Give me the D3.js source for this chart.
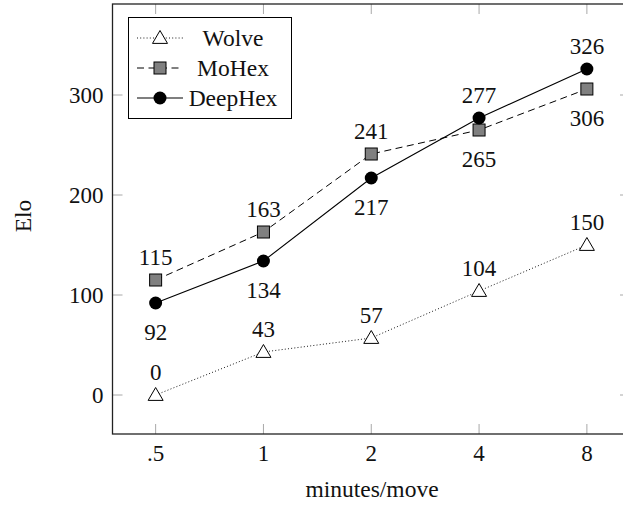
<!DOCTYPE html>
<html>
<head>
<meta charset="utf-8">
<script src="https://cdn.jsdelivr.net/npm/d3@7"></script>
<style>
  body { margin: 0; background: #fff; }
  svg { display: block; }
  text { font-family: "Liberation Serif", "Times New Roman", serif; fill: #111; }
</style>
</head>
<body>
<div id="chart"></div>
<script>
// data
const categories = ['.5', '1', '2', '4', '8'];
const wolve = [0, 43, 57, 104, 150];
const mohex = [115, 163, 241, 265, 306];
const deephex = [92, 134, 217, 277, 326];
// which side each value label sits on
const wolvePos = ['above', 'above', 'above', 'above', 'above'];
const mohexPos = ['above', 'above', 'above', 'below', 'below'];
const deephexPos = ['below', 'below', 'below', 'above', 'above'];
const yTicks = [0, 100, 200, 300];

const width = 623, height = 506;
const plot = { left: 112.5, right: 630, top: 4, bottom: 434 };

const svg = d3.select('#chart').append('svg')
  .attr('width', width)
  .attr('height', height);

const x = d3.scaleLinear()
  .domain([-0.4, categories.length - 1 + 0.4])
  .range([plot.left, plot.right]);

const y = d3.scaleLinear()
  .domain([-39, 391])
  .range([plot.bottom, plot.top]);

// ticks (inside, gray) on all four sides
const tickLen = 10;
const tickColor = '#a8a8a8';
const ticks = svg.append('g');
categories.forEach((c, i) => {
  ticks.append('line')
    .attr('x1', x(i)).attr('x2', x(i))
    .attr('y1', plot.bottom).attr('y2', plot.bottom - tickLen)
    .style('stroke', tickColor).style('stroke-width', 1);
  ticks.append('line')
    .attr('x1', x(i)).attr('x2', x(i))
    .attr('y1', plot.top).attr('y2', plot.top + tickLen)
    .style('stroke', tickColor).style('stroke-width', 1);
});
yTicks.forEach(t => {
  ticks.append('line')
    .attr('x1', plot.left).attr('x2', plot.left + tickLen)
    .attr('y1', y(t)).attr('y2', y(t))
    .style('stroke', tickColor).style('stroke-width', 1);
  ticks.append('line')
    .attr('x1', plot.right).attr('x2', plot.right - tickLen)
    .attr('y1', y(t)).attr('y2', y(t))
    .style('stroke', tickColor).style('stroke-width', 1);
});

// axis box
svg.append('rect')
  .attr('x', plot.left).attr('y', plot.top)
  .attr('width', plot.right - plot.left)
  .attr('height', plot.bottom - plot.top)
  .style('fill', 'none')
  .style('stroke', '#222')
  .style('stroke-width', 1.3);

// tick labels
svg.selectAll('.xlabel')
  .data(categories)
  .enter().append('text')
  .attr('class', 'xlabel')
  .attr('x', (d, i) => x(i))
  .attr('y', 461)
  .attr('text-anchor', 'middle')
  .style('font-size', '23px')
  .text(d => d);

svg.selectAll('.ylabel')
  .data(yTicks)
  .enter().append('text')
  .attr('class', 'ylabel')
  .attr('x', 103.5)
  .attr('y', d => y(d) + 7.5)
  .attr('text-anchor', 'end')
  .style('font-size', '23px')
  .text(d => d);

// axis titles
svg.append('text')
  .attr('x', 372)
  .attr('y', 497)
  .attr('text-anchor', 'middle')
  .style('font-size', '23.5px')
  .text('minutes/move');

svg.append('text')
  .attr('transform', 'translate(31,216) rotate(-90)')
  .attr('text-anchor', 'middle')
  .style('font-size', '23.5px')
  .text('Elo');

// series
const series = [
  { name: 'Wolve', values: wolve, pos: wolvePos, dash: '1,2.2', width: 0.9, marker: 'triangle' },
  { name: 'MoHex', values: mohex, pos: mohexPos, dash: '7,4.5', width: 1, marker: 'square' },
  { name: 'DeepHex', values: deephex, pos: deephexPos, dash: null, width: 1.1, marker: 'circle' }
];

function drawMarker(g, type, cx, cy) {
  if (type === 'triangle') {
    const s = 7.5;
    g.append('path')
      .attr('d', `M${cx},${cy - s} L${cx + s},${cy + s * 0.72} L${cx - s},${cy + s * 0.72} Z`)
      .style('fill', '#fff').style('stroke', '#000').style('stroke-width', 1);
  } else if (type === 'square') {
    g.append('rect')
      .attr('x', cx - 6).attr('y', cy - 6)
      .attr('width', 12).attr('height', 12)
      .style('fill', '#808080').style('stroke', '#000').style('stroke-width', 1);
  } else {
    g.append('circle')
      .attr('cx', cx).attr('cy', cy).attr('r', 6.5)
      .style('fill', '#000');
  }
}

const line = d3.line()
  .x((d, i) => x(i))
  .y(d => y(d));

series.forEach(s => {
  const g = svg.append('g');
  g.append('path')
    .datum(s.values)
    .attr('d', line)
    .style('fill', 'none')
    .style('stroke', '#000')
    .style('stroke-width', s.width)
    .style('stroke-dasharray', s.dash);
  s.values.forEach((v, i) => drawMarker(g, s.marker, x(i), y(v)));
  g.selectAll('.val')
    .data(s.values)
    .enter().append('text')
    .attr('class', 'val')
    .attr('x', (d, i) => x(i))
    .attr('y', (d, i) => s.pos[i] === 'above' ? y(d) - 15.5 : y(d) + 36.5)
    .attr('text-anchor', 'middle')
    .style('font-size', '23px')
    .text(d => d);
});

// legend
const legend = svg.append('g');
legend.append('rect')
  .attr('x', 128.5).attr('y', 17.5)
  .attr('width', 163).attr('height', 101)
  .style('fill', '#fff')
  .style('stroke', '#000')
  .style('stroke-width', 1);

series.forEach((s, i) => {
  const ly = 38 + i * 30;
  legend.append('line')
    .attr('x1', 137).attr('x2', 183)
    .attr('y1', ly).attr('y2', ly)
    .style('stroke', '#000')
    .style('stroke-width', s.width)
    .style('stroke-dasharray', s.dash);
  drawMarker(legend, s.marker, 160, ly);
  legend.append('text')
    .attr('x', 233)
    .attr('y', ly + 8)
    .attr('text-anchor', 'middle')
    .style('font-size', '23.5px')
    .text(s.name);
});
</script>
</body>
</html>
